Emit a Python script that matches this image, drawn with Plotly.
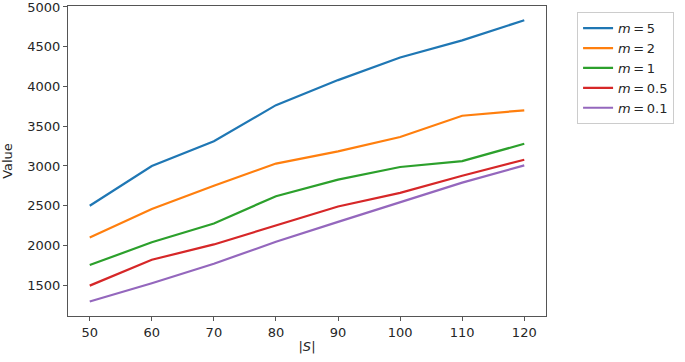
import plotly.graph_objects as go

x_vals = [50, 60, 70, 80, 90, 100, 110, 120]
m5 = [2500, 3000, 3310, 3765, 4080, 4365, 4580, 4833]
m2 = [2100, 2460, 2752, 3030, 3183, 3365, 3632, 3700]
m1 = [1754, 2040, 2277, 2620, 2828, 2987, 3062, 3279]
m05 = [1495, 1820, 2013, 2256, 2490, 2661, 2877, 3079]
m01 = [1295, 1525, 1771, 2046, 2297, 2540, 2790, 3008]
y_ticks = [1500, 2000, 2500, 3000, 3500, 4000, 4500, 5000]

sp = "\u2009"
series = [
    (f"<i>m</i>{sp}={sp}5", m5, "#1f77b4"),
    (f"<i>m</i>{sp}={sp}2", m2, "#ff7f0e"),
    (f"<i>m</i>{sp}={sp}1", m1, "#2ca02c"),
    (f"<i>m</i>{sp}={sp}0.5", m05, "#d62728"),
    (f"<i>m</i>{sp}={sp}0.1", m01, "#9467bd"),
]

fig = go.Figure()
for name, vals, color in series:
    fig.add_trace(go.Scatter(x=x_vals, y=vals, mode="lines", name=name,
                             line=dict(color=color, width=2.2)))

font = dict(family="DejaVu Sans", size=13, color="#262626")
axis_common = dict(showline=True, linecolor="#555555", linewidth=1, mirror=True,
                   ticks="outside", ticklen=4, tickcolor="#555555",
                   showgrid=False, zeroline=False, tickfont=font,
                   ticklabeloverflow="allow", automargin=False)

fig.update_layout(
    width=685, height=362,
    margin=dict(l=68, r=139, t=6, b=46),
    plot_bgcolor="white", paper_bgcolor="white",
    font=font,
    xaxis=dict(range=[46.5, 123.5], tickvals=x_vals,
               title=dict(text="|<i>S</i>|", font=font, standoff=3), **axis_common),
    yaxis=dict(range=[1113, 5012], tickvals=y_ticks,
               title=dict(text="Value", font=font, standoff=14), **axis_common),
    legend=dict(x=1.065, y=0.98, xanchor="left", yanchor="top",
                bordercolor="#cccccc", borderwidth=1, bgcolor="white",
                font=dict(family="DejaVu Sans", size=13, color="#262626"),
                tracegroupgap=0, itemwidth=30),
    showlegend=True,
)

fig.write_html("out.html", config={"displayModeBar": False},
               post_script="document.body.style.margin='0';document.body.style.overflow='hidden';")
